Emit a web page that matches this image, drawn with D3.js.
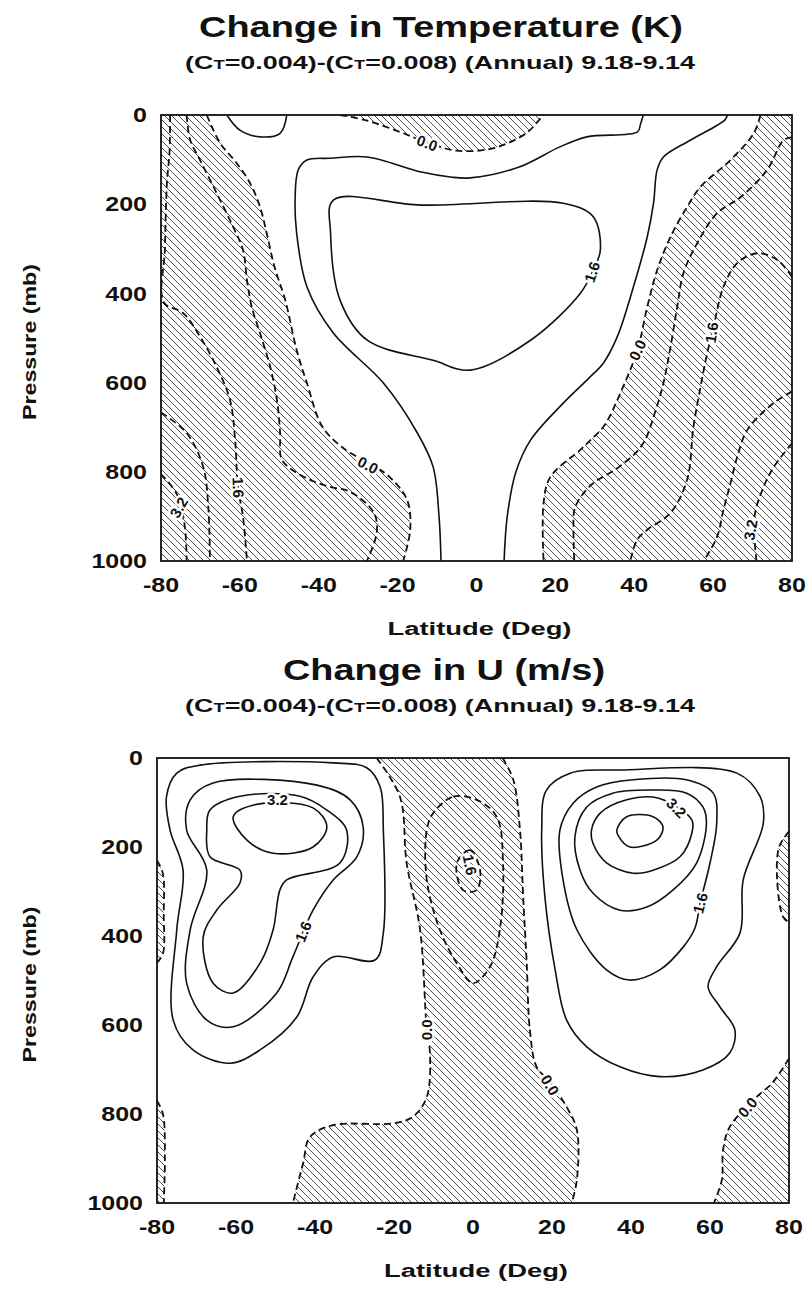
<!DOCTYPE html>
<html>
<head>
<meta charset="utf-8">
<script src="https://cdn.jsdelivr.net/npm/d3@7"></script>
<style>
  body { margin: 0; background: #fff; }
  svg { display: block; }
  text { font-family: "Liberation Sans", Arial, sans-serif; font-weight: bold; fill: #111; }
</style>
</head>
<body>
<svg id="fig" width="809" height="1289"></svg>
<script>
// axis ticks
var latTicks = [-80, -60, -40, -20, 0, 20, 40, 60, 80];
var presTicks = [0, 200, 400, 600, 800, 1000];

// ---- Change in Temperature: contour traces, [lat, mb]
// zero lines (dashed, hatched on the negative side)
var tZeroLeft = [[-68.4,0],[-65,63],[-60.8,108],[-57.4,153],[-54.9,206],[-53.2,265],[-51.2,341],[-48.5,415],[-45.6,527],[-43,601],[-39,700],[-33,752],[-27.7,778],[-22,812],[-17.6,863],[-16.8,930],[-18.6,1000]];
var tZeroTop = [[-34.6,0],[-28,12],[-20,36],[-12.5,62],[-5,80],[3,77],[8,63],[13,38],[16,10],[17,0]];
var tZeroRight = [[72,0],[70.3,41],[64.4,101],[56.8,161],[53.4,206],[49.2,273],[45.8,348],[43.3,430],[40.8,527],[36.5,623],[32.5,695],[28.9,729],[26.3,751],[18.7,812],[17,870],[17,1000]];
// negative lines
var tNeg08Left = [[-73.5,0],[-72.6,56],[-70.1,101],[-65.9,175],[-61.7,251],[-59.2,303],[-58.2,370],[-57,430],[-54.9,489],[-52.3,565],[-50.6,639],[-49.8,713],[-49.5,770],[-47.3,792],[-42.2,818],[-37.1,834],[-32,845],[-26,892],[-25.3,937],[-27.8,1000]];
var tNeg16Left = [[-77.7,0],[-77.8,78],[-78.5,153],[-79,300],[-79.3,420],[-74.4,444],[-70.1,497],[-65.9,565],[-62.5,639],[-61.2,729],[-60.5,834],[-59.2,901],[-58.2,1000]];
var tNeg24Left = [[-80,667],[-73.5,713],[-69.3,789],[-68,880],[-67.6,1000]];
var tNeg32Left = [[-80,805],[-76,850],[-74,920],[-73.5,1000]];
var tNeg08Right = [[80,50],[77.9,56],[73.7,123],[67,184],[61,220],[56,287],[52.5,354],[50.9,430],[49.2,520],[47.4,601],[45.5,660],[42,740],[36,790],[29,830],[25,880],[24.6,930],[24.8,1000]];
var tNeg16Right = [[80,363],[76.3,325],[71.2,310],[66.1,332],[62.6,386],[60.1,475],[58.5,534],[56.8,610],[55,700],[53.4,818],[49.2,892],[43.3,930],[40.7,953],[39,1000]];
var tNeg24Right = [[80,620],[75.3,646],[68.7,706],[66.1,767],[64.4,826],[62.6,886],[61,946],[57.6,1000]];
var tNeg32Right = [[80,736],[75.4,789],[72.8,834],[70.5,900],[71,1000]];
// positive lines (solid)
var tPos08Main = [[42.3,0],[41.6,20],[40.8,38],[28,49],[21,72],[11,116],[-1.6,141],[-6.6,139],[-14,128],[-27.7,94],[-37.1,97],[-43,101],[-45.2,123],[-46,191],[-45.6,265],[-43,385],[-36.3,489],[-23.6,601],[-15,713],[-11,789],[-9.5,900],[-9,1000]];
var tPos08Right = [[63.6,0],[63,11],[54.3,56],[47.4,94],[45.8,123],[44.9,197],[43.3,273],[39.8,385],[35.7,497],[32.2,556],[28.5,590],[22,646],[13.7,729],[10,800],[7.8,900],[7,1000]];
var tPos08Bump = [[-63.3,0],[-60,34],[-54.9,49],[-49.8,41],[-48.1,0]];
var tPos16 = [[-36.3,191],[-37,265],[-34.6,415],[-27.7,505],[-11,550],[-1.6,572],[13.7,505],[26.3,400],[29.5,350],[31.4,303],[29.6,228],[22,198],[-14,202]];
var tLabels = [["0.0",-12.5,63],["1.6",29.3,352],["0.0",40.8,527],["1.6",59.6,488],["3.2",69.5,930],["0.0",-27.5,785],["1.6",-60.4,835],["3.2",-75.5,880]];
var tLabelAngles = [20, -72, -65, -82, -80, 28, 88, -60];

// ---- Change in U
var uZeroBandLeft = [[-24.4,0],[-18.5,87],[-16.8,236],[-13.4,386],[-11.7,611],[-10.9,663],[-11.7,762],[-15.2,806],[-20.2,821],[-35.4,825],[-41.3,852],[-43,910],[-45.6,1000]];
var uZeroBandRight = [[7.5,0],[10.2,49],[11.9,162],[12.7,312],[13.6,461],[14.4,611],[16.1,694],[19.5,728],[23.7,784],[26.3,836],[26.3,948],[25,1000]];
var uZeroLowRight = [[80,675],[75.8,730],[72,760],[65,829],[63.3,881],[63,948],[61,1000]];
var uZeroEdgeRight = [[80,165],[77.5,200],[77,274],[78.5,357],[80,370]];
var uZeroEdgeLeftA = [[-80,230],[-78.5,260],[-78.3,350],[-78.5,440],[-80,460]];
var uZeroEdgeLeftB = [[-80,770],[-78.5,800],[-78,900],[-78.3,1000]];
var uNeg08 = [[-10.1,124],[-5,87],[0.9,94],[6,132],[7.6,236],[6.8,386],[4.3,469],[0,506],[-4.1,461],[-8.4,386],[-11.7,274],[-11.7,162]];
var uNeg16 = [[-4.1,236],[-0.8,207],[1.8,252],[0.9,297],[-2.5,297]];
var uLeft08 = [[-77.6,87],[-75,34],[-69.1,16],[-35.4,11],[-26.9,22],[-23.5,65],[-22.7,162],[-22.7,393],[-24.8,454],[-35.4,447],[-40.5,492],[-44.6,582],[-53.9,656],[-61.5,686],[-70.9,656],[-75.9,589],[-75,386],[-73.4,252],[-76.7,162]];
var uLeft16 = [[-71.6,94],[-65.8,56],[-39.5,61],[-31.1,94],[-27.8,155],[-29.4,222],[-35.4,274],[-40.5,342],[-45.6,447],[-49.7,528],[-60.7,604],[-67.4,589],[-72.5,506],[-71.6,386],[-67.4,252],[-72.5,162]];
var uLeft24 = [[-66.6,117],[-59,86],[-43.8,86],[-37,117],[-32,162],[-33.7,236],[-47.2,274],[-48.9,297],[-50.6,386],[-53.9,461],[-60.7,528],[-65.8,506],[-68.3,402],[-64.9,342],[-59,281],[-59,252],[-66.6,222],[-67.4,162]];
var uLeft32 = [[-60.7,132],[-55.7,106],[-40.5,112],[-37,155],[-40.5,200],[-50.6,214],[-57.3,184]];
var uRight08 = [[18.6,72],[24.6,34],[37.2,27],[66.8,34],[72.7,87],[73.5,146],[68.4,274],[67.6,393],[61.7,469],[59.5,514],[62.5,559],[66.3,611],[65,663],[58.2,701],[47.3,716],[37.2,694],[28.8,649],[23.7,589],[20.8,476],[18.2,312],[17.4,162]];
var uRight16 = [[22,162],[25.4,101],[31.3,65],[40.5,49],[54,49],[60.8,79],[61.7,146],[60,236],[57.5,326],[56.2,382],[53.2,425],[47.3,476],[39.7,499],[33.8,476],[26.3,386],[22.8,274]];
var uRight24 = [[25.8,177],[28.8,110],[35.4,79],[45.6,72],[54.1,79],[58.2,110],[59.1,146],[56.6,236],[50.6,297],[44,335],[37.2,342],[30.4,304],[27.1,252]];
var uRight32 = [[30,162],[32.2,124],[38.9,94],[46.8,90],[55.4,139],[55.4,169],[52.4,222],[45.6,252],[40.5,259],[33.9,236],[30.4,192]];
var uRight40 = [[36.4,162],[38.9,132],[45.6,132],[48.1,155],[46.6,184],[39.7,200],[36.8,175]];
var uLabels = [["3.2",-49.5,94],["1.6",-43,390],["0.0",-11.7,611],["1.6",-0.8,240],["0.0",19.5,735],["3.2",51.5,112],["1.6",57.5,326],["0.0",69.5,785]];
var uLabelAngles = [0, -68, -90, 78, 58, 45, -75, -50];

var svg = d3.select('#fig');

// the printed lettering is wide: stretch a text node horizontally
function widen(sel, factor) {
  sel.each(function () {
    var w = this.getComputedTextLength();
    d3.select(this).attr('textLength', w * factor).attr('lengthAdjust', 'spacingAndGlyphs');
  });
}

function panel(opt) {
  var x = d3.scaleLinear().domain([-80, 80]).range([opt.left, opt.right]);
  var y = d3.scaleLinear().domain([0, 1000]).range([opt.top, opt.bottom]);
  var g = svg.append('g');
  var id = opt.id;

  var defs = g.append('defs');
  defs.append('clipPath').attr('id', 'clip-' + id)
    .append('rect')
    .attr('x', opt.left).attr('y', opt.top)
    .attr('width', opt.right - opt.left).attr('height', opt.bottom - opt.top);
  var pat = defs.append('pattern').attr('id', 'hatch-' + id)
    .attr('patternUnits', 'userSpaceOnUse')
    .attr('width', 7).attr('height', 7);
  pat.append('path')
    .attr('d', 'M0,0L7,7M-1,6L1,8M6,-1L8,1')
    .attr('stroke', '#3a3a3a').attr('stroke-width', 0.9);

  var openLine = d3.line().x(d => x(d[0])).y(d => y(d[1]))
    .curve(d3.curveCatmullRom.alpha(0.5));
  var closedLine = d3.line().x(d => x(d[0])).y(d => y(d[1]))
    .curve(d3.curveCatmullRomClosed.alpha(0.5));

  var plot = g.append('g').attr('clip-path', 'url(#clip-' + id + ')');

  // hatched negative areas
  plot.selectAll('path.hatch')
    .data(opt.hatch)
    .enter().append('path')
    .attr('class', 'hatch')
    .attr('d', h => {
      var d = openLine(h.edge);
      if (h.back) d += openLine(h.back.slice().reverse()).replace(/^M/, 'L');
      (h.corners || []).forEach(c => { d += 'L' + x(c[0]) + ',' + y(c[1]); });
      return d + 'Z';
    })
    .attr('fill', 'url(#hatch-' + id + ')')
    .attr('stroke', 'none');

  // contour lines
  plot.selectAll('path.contour')
    .data(opt.lines)
    .enter().append('path')
    .attr('class', 'contour')
    .attr('d', c => (c.closed ? closedLine : openLine)(c.pts))
    .attr('fill', 'none')
    .attr('stroke', '#111')
    .attr('stroke-width', c => c.dash ? 1.8 : 1.6)
    .attr('stroke-dasharray', c => c.dash ? '7,4' : null);

  // contour labels (white halo breaks the line under the number)
  var labs = plot.selectAll('g.clab')
    .data(opt.labels)
    .enter().append('g')
    .attr('class', 'clab')
    .attr('transform', (l, i) => 'translate(' + x(l[1]) + ',' + y(l[2]) + ') rotate(' + opt.angles[i] + ')');
  labs.append('text')
    .attr('text-anchor', 'middle')
    .attr('dy', '0.36em')
    .style('font-size', '15px')
    .attr('stroke', '#fff').attr('stroke-width', 5)
    .attr('stroke-linejoin', 'round')
    .text(l => l[0]);
  labs.append('text')
    .attr('text-anchor', 'middle')
    .attr('dy', '0.36em')
    .style('font-size', '15px')
    .text(l => l[0]);

  // frame
  g.append('rect')
    .attr('x', opt.left).attr('y', opt.top)
    .attr('width', opt.right - opt.left).attr('height', opt.bottom - opt.top)
    .attr('fill', 'none').attr('stroke', '#111').attr('stroke-width', 1.8);

  // tick labels
  g.selectAll('text.ytick')
    .data(presTicks)
    .enter().append('text')
    .attr('class', 'ytick')
    .attr('x', opt.left - 14).attr('y', d => y(d))
    .attr('dy', '0.36em')
    .attr('text-anchor', 'end')
    .style('font-size', '20px')
    .text(d => d)
    .call(widen, 1.25);
  g.selectAll('text.xtick')
    .data(latTicks)
    .enter().append('text')
    .attr('class', 'xtick')
    .attr('x', d => x(d)).attr('y', opt.bottom + 31)
    .attr('text-anchor', 'middle')
    .style('font-size', '20px')
    .text(d => d)
    .call(widen, 1.25);

  // axis titles
  g.append('text')
    .attr('x', (opt.left + opt.right) / 2 + 3).attr('y', opt.bottom + 74)
    .attr('text-anchor', 'middle')
    .style('font-size', '18px')
    .text('Latitude (Deg)')
    .attr('textLength', 184).attr('lengthAdjust', 'spacingAndGlyphs');
  g.append('text')
    .attr('transform', 'translate(36,' + ((opt.top + opt.bottom) / 2 + 4) + ') rotate(-90)')
    .attr('text-anchor', 'middle')
    .style('font-size', '18px')
    .text('Pressure (mb)')
    .attr('textLength', 156).attr('lengthAdjust', 'spacingAndGlyphs');

  // titles
  g.append('text')
    .attr('x', opt.titleX).attr('y', opt.top - 78)
    .attr('text-anchor', 'middle')
    .style('font-size', '30px')
    .text(opt.title)
    .attr('textLength', opt.titleW).attr('lengthAdjust', 'spacingAndGlyphs');
  var sub = g.append('text')
    .attr('x', 440).attr('y', opt.top - 46)
    .attr('text-anchor', 'middle')
    .style('font-size', '19px')
    .attr('textLength', 510).attr('lengthAdjust', 'spacingAndGlyphs');
  sub.append('tspan').text('(C');
  sub.append('tspan').style('font-size', '13px').text('T');
  sub.append('tspan').text('=0.004)-(C');
  sub.append('tspan').style('font-size', '13px').text('T');
  sub.append('tspan').text('=0.008) (Annual) 9.18-9.14');
}

panel({
  id: 'temp', left: 161, right: 792, top: 115, bottom: 561,
  title: 'Change in Temperature (K)', titleX: 441, titleW: 484,
  hatch: [
    { edge: tZeroLeft, corners: [[-80, 1000], [-80, 0]] },
    { edge: tZeroTop },
    { edge: tZeroRight, corners: [[80, 1000], [80, 0]] }
  ],
  lines: [
    { pts: tZeroLeft, dash: true }, { pts: tZeroTop, dash: true }, { pts: tZeroRight, dash: true },
    { pts: tNeg08Left, dash: true }, { pts: tNeg16Left, dash: true },
    { pts: tNeg24Left, dash: true }, { pts: tNeg32Left, dash: true },
    { pts: tNeg08Right, dash: true }, { pts: tNeg16Right, dash: true },
    { pts: tNeg24Right, dash: true }, { pts: tNeg32Right, dash: true },
    { pts: tPos08Main }, { pts: tPos08Right }, { pts: tPos08Bump },
    { pts: tPos16, closed: true }
  ],
  labels: tLabels, angles: tLabelAngles
});

panel({
  id: 'wind', left: 157, right: 789, top: 758, bottom: 1203,
  title: 'Change in U (m/s)', titleX: 444, titleW: 322,
  hatch: [
    { edge: uZeroBandLeft, back: uZeroBandRight },
    { edge: uZeroLowRight, corners: [[80, 1000]] },
    { edge: uZeroEdgeRight },
    { edge: uZeroEdgeLeftA },
    { edge: uZeroEdgeLeftB, corners: [[-80, 1000]] }
  ],
  lines: [
    { pts: uZeroBandLeft, dash: true }, { pts: uZeroBandRight, dash: true },
    { pts: uZeroLowRight, dash: true }, { pts: uZeroEdgeRight, dash: true },
    { pts: uZeroEdgeLeftA, dash: true }, { pts: uZeroEdgeLeftB, dash: true },
    { pts: uNeg08, dash: true, closed: true }, { pts: uNeg16, dash: true, closed: true },
    { pts: uLeft08, closed: true }, { pts: uLeft16, closed: true },
    { pts: uLeft24, closed: true }, { pts: uLeft32, closed: true },
    { pts: uRight08, closed: true }, { pts: uRight16, closed: true },
    { pts: uRight24, closed: true }, { pts: uRight32, closed: true },
    { pts: uRight40, closed: true }
  ],
  labels: uLabels, angles: uLabelAngles
});
</script>
</body>
</html>
